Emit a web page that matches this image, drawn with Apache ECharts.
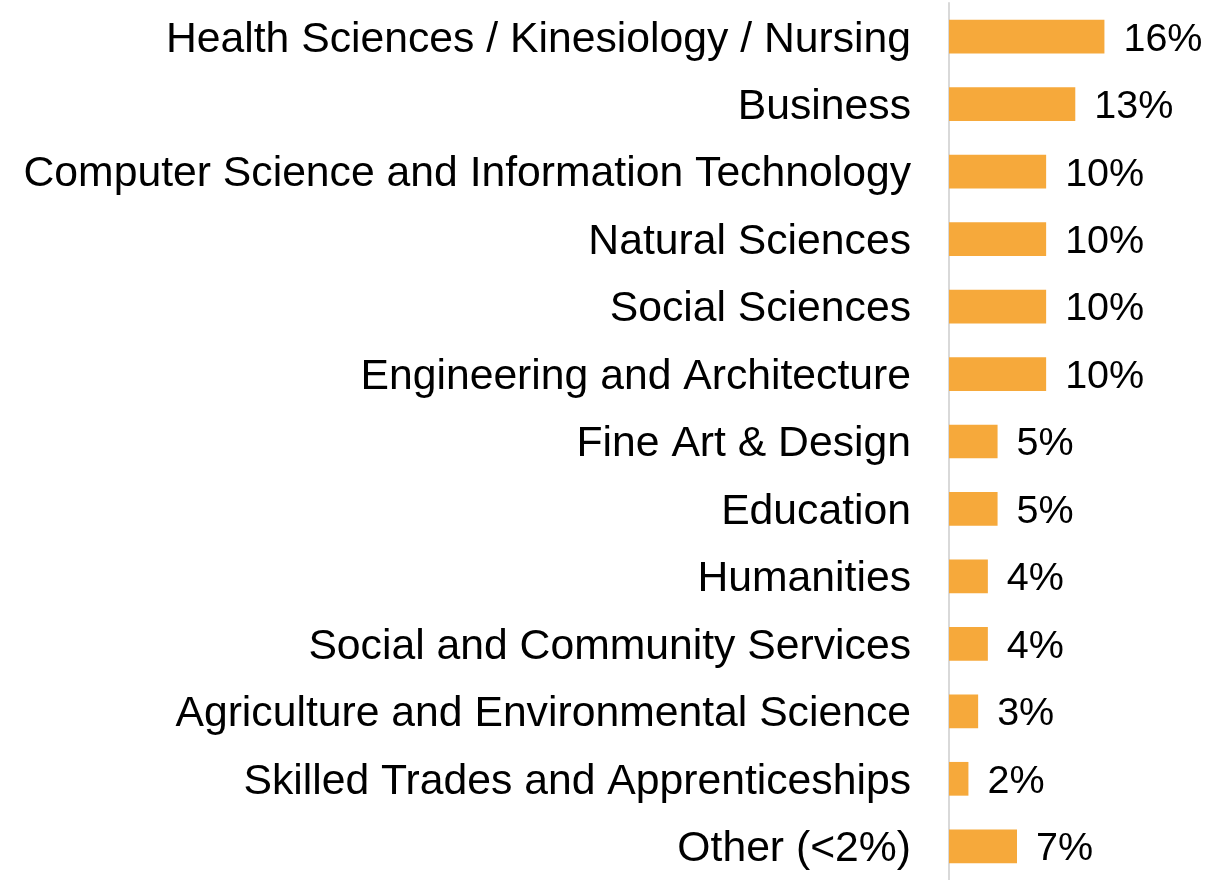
<!DOCTYPE html>
<html>
<head>
<meta charset="utf-8">
<script src="https://cdn.jsdelivr.net/npm/echarts@6/dist/echarts.min.js"></script>
<style>
  html, body { margin: 0; padding: 0; background: #fff; }
  #chart { width: 1227px; height: 880px; }
</style>
</head>
<body>
<div id="chart"></div>
<script>
// fields of study, top to bottom
const categories = [
  "Health Sciences / Kinesiology / Nursing",
  "Business",
  "Computer Science and Information Technology",
  "Natural Sciences",
  "Social Sciences",
  "Engineering and Architecture",
  "Fine Art & Design",
  "Education",
  "Humanities",
  "Social and Community Services",
  "Agriculture and Environmental Science",
  "Skilled Trades and Apprenticeships",
  "Other (<2%)"
];
const shares = [16, 13, 10, 10, 10, 10, 5, 5, 4, 4, 3, 2, 7];

const font = "'Liberation Sans', Arial, sans-serif";
const chart = echarts.init(document.getElementById("chart"));

const option = {
  animation: false,
  grid: {
    left: 949,
    right: 6,
    top: 3,
    bottom: -11,
    containLabel: false
  },
  xAxis: {
    type: "value",
    min: 0,
    max: 28,
    show: false
  },
  yAxis: {
    type: "category",
    inverse: true,
    data: categories,
    axisLine: { show: true, lineStyle: { color: "#d9d9d9", width: 2 } },
    axisTick: { show: false },
    axisLabel: {
      margin: 38,
      formatter: v => "{t|" + v + "}",
      rich: {
        t: {
          color: "#000",
          fontSize: 42.7,
          fontFamily: font,
          padding: [6, 0, 0, 0]
        }
      }
    }
  },
  series: [
    {
      type: "bar",
      data: shares,
      barWidth: "50%",
      itemStyle: { color: "#F6A93B" },
      label: {
        show: true,
        position: "right",
        distance: 19,
        formatter: p => "{t|" + p.value + "%}",
        rich: {
          t: {
            color: "#000",
            fontSize: 39.5,
            fontFamily: font,
            padding: [6, 0, 0, 0]
          }
        }
      }
    }
  ]
};

chart.setOption(option);
</script>
</body>
</html>
